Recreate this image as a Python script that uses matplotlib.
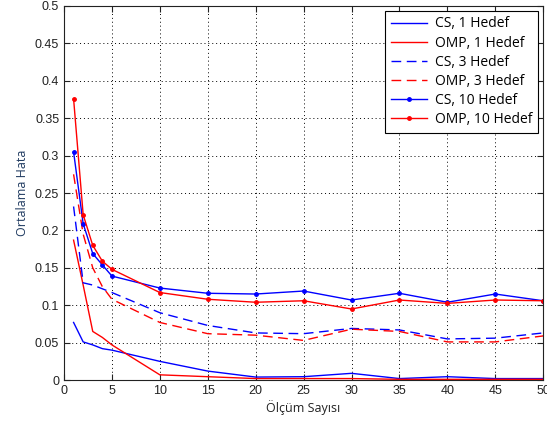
import matplotlib
matplotlib.use("Agg")
import matplotlib.pyplot as plt

# ---------------------- DATA ----------------------
olcum = [1, 2, 3, 4, 5, 10, 15, 20, 25, 30, 35, 40, 45, 50]

cs_1 = [0.077, 0.051, 0.047, 0.042, 0.040, 0.025, 0.012, 0.004, 0.0045, 0.009, 0.002, 0.0045, 0.002, 0.002]
omp_1 = [0.187, 0.127, 0.065, 0.057, 0.047, 0.007, 0.0045, 0.002, 0.002, 0.002, 0.001, 0.001, 0.001, 0.001]
cs_3 = [0.232, 0.130, 0.127, 0.122, 0.117, 0.090, 0.073, 0.063, 0.062, 0.069, 0.067, 0.055, 0.056, 0.063]
omp_3 = [0.275, 0.195, 0.150, 0.125, 0.108, 0.077, 0.062, 0.060, 0.053, 0.068, 0.065, 0.051, 0.051, 0.059]
cs_10 = [0.305, 0.209, 0.169, 0.154, 0.139, 0.123, 0.116, 0.115, 0.119, 0.107, 0.116, 0.104, 0.115, 0.106]
omp_10 = [0.376, 0.221, 0.180, 0.159, 0.148, 0.117, 0.108, 0.104, 0.106, 0.095, 0.107, 0.1025, 0.107, 0.106]

x_ticks = list(range(0, 51, 5))
y_ticks = [0, 0.05, 0.1, 0.15, 0.2, 0.25, 0.3, 0.35, 0.4, 0.45, 0.5]
y_labels = ["0", "0.05", "0.1", "0.15", "0.2", "0.25", "0.3", "0.35", "0.4", "0.45", "0.5"]

# ---------------------- FIGURE ----------------------
plt.rcParams['font.family'] = ['Liberation Sans', 'DejaVu Sans']

fig = plt.figure(figsize=(5.47, 4.28), dpi=100)
ax = fig.add_axes([0.117, 0.112, 0.876, 0.874])

ax.plot(olcum, cs_1, color='#0000ff', lw=1, label='CS, 1 Hedef')
ax.plot(olcum, omp_1, color='#ff0000', lw=1, label='OMP, 1 Hedef')
ax.plot(olcum, cs_3, color='#0000ff', lw=1, ls=(0, (7, 4)), label='CS, 3 Hedef')
ax.plot(olcum, omp_3, color='#ff0000', lw=1, ls=(0, (7, 4)), label='OMP, 3 Hedef')
ax.plot(olcum, cs_10, color='#0000ff', lw=1, marker='.', ms=5, label='CS, 10 Hedef')
ax.plot(olcum, omp_10, color='#ff0000', lw=1, marker='.', ms=5, label='OMP, 10 Hedef')

ax.set_xlim(0, 50)
ax.set_ylim(0, 0.5)
ax.set_xticks(x_ticks)
ax.set_yticks(y_ticks)
ax.set_yticklabels(y_labels)
ax.tick_params(direction='in', length=4, labelsize=9, colors='#222222', top=True, right=True)
ax.grid(True, color='black', ls=(0, (1, 3)), lw=0.7)
for sp in ax.spines.values():
    sp.set_color('#222222')
    sp.set_linewidth(0.8)

ax.set_xlabel('Ölçüm Sayısı', fontsize=9, family=['Open Sans', 'DejaVu Sans'], color='#222222', labelpad=2)
ax.set_ylabel('Ortalama Hata', fontsize=9, family=['Open Sans', 'DejaVu Sans'], color='#1f3a60', labelpad=4)

leg = ax.legend(loc='upper right', fancybox=False, edgecolor='black', framealpha=1,
                prop={'family': 'Open Sans', 'size': 10}, handlelength=2.6,
                labelspacing=0.3, borderaxespad=0.35, handletextpad=0.6)
leg.get_frame().set_linewidth(0.8)

fig.savefig('out.png', dpi=100)
